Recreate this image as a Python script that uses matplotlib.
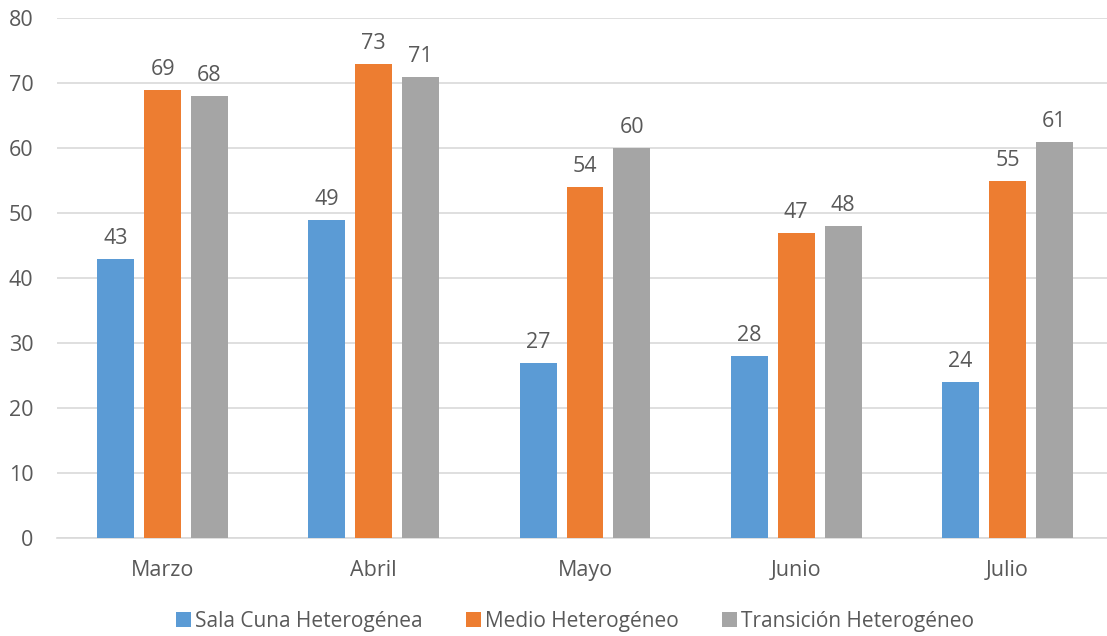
import numpy as np
import matplotlib
matplotlib.use("Agg")
import matplotlib.pyplot as plt

plt.rcParams['font.family'] = ['Open Sans', 'DejaVu Sans']

meses = ["Marzo", "Abril", "Mayo", "Junio", "Julio"]
series = ["Sala Cuna Heterogénea", "Medio Heterogéneo", "Transición Heterogéneo"]
sala_cuna = [43, 49, 27, 28, 24]
medio = [69, 73, 54, 47, 55]
transicion = [68, 71, 60, 48, 61]
colores = ["#5B9BD5", "#ED7D31", "#A5A5A5"]
texto = "#595959"

fig = plt.figure(figsize=(11.07, 6.36), dpi=100)
ax = fig.add_axes([57 / 1107, 1 - 538 / 636, 1056 / 1107, 520 / 636])

x = np.arange(len(meses))
ancho = 0.175
paso = 0.222
for i, (vals, nombre, c) in enumerate(zip([sala_cuna, medio, transicion], series, colores)):
    barras = ax.bar(x + (i - 1) * paso, vals, ancho, color=c, label=nombre, zorder=3)
    ax.bar_label(barras, padding=7, fontsize=15.5, color=texto)

ax.set_xlim(-0.5, len(meses) - 0.5)
ax.set_ylim(0, 80)
ax.set_yticks(range(0, 81, 10))
ax.set_xticks(x)
ax.set_xticklabels(meses)
ax.tick_params(axis='both', length=0, labelsize=15.5, colors=texto)
ax.tick_params(axis='x', pad=16)
ax.tick_params(axis='y', pad=17)
ax.grid(axis='y', color="#D9D9D9", linewidth=1.2, zorder=0)
for s in ['top', 'right', 'left']:
    ax.spines[s].set_visible(False)
ax.spines['bottom'].set_color("#D9D9D9")
ax.spines['bottom'].set_linewidth(1.2)

fig.legend(loc='center', bbox_to_anchor=(575 / 1107, 1 - 621 / 636), ncol=3, frameon=False,
           fontsize=15, labelcolor=texto, handlelength=0.7, handleheight=0.7,
           handletextpad=0.2, columnspacing=2.1)

fig.savefig("out.png", dpi=100)
